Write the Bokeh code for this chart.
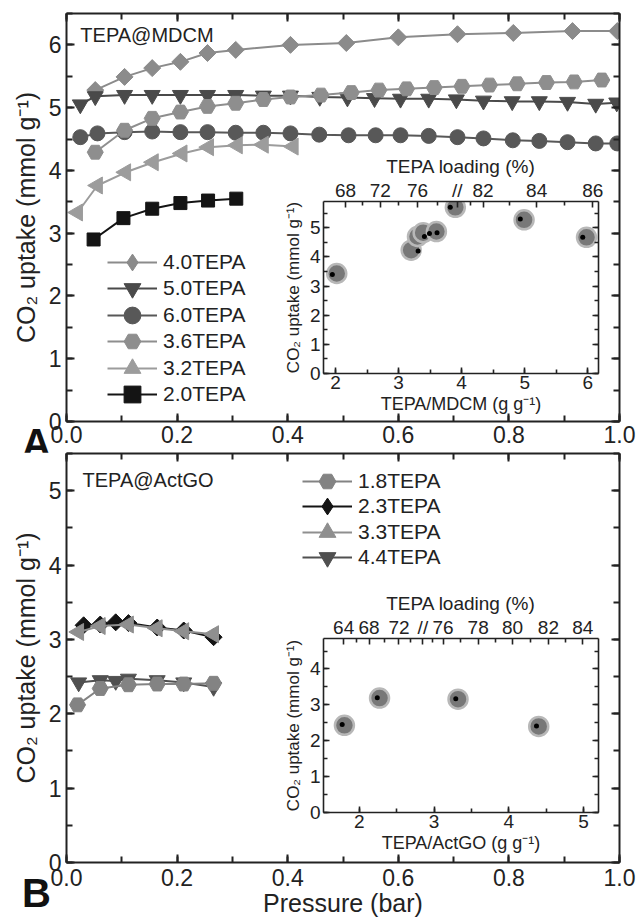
import numpy as np
from bokeh.plotting import figure
from bokeh.models import (Range1d, LinearAxis, SingleIntervalTicker, FixedTicker,
                          NumeralTickFormatter, Legend, LegendItem, Label, GridBox, Div)
from bokeh.embed import file_html
from bokeh.resources import INLINE

FONT = "Liberation Sans"
INK = "#222222"

# ---------------- Panel A data (TEPA@MDCM) ----------------
p_40 = [0.052, 0.105, 0.155, 0.206, 0.255, 0.306, 0.405, 0.506, 0.600, 0.707, 0.808, 0.915, 0.996]
u_40 = [5.28, 5.49, 5.63, 5.73, 5.87, 5.92, 6.00, 6.03, 6.12, 6.17, 6.19, 6.22, 6.22]

p_50 = [0.025, 0.052, 0.105, 0.155, 0.206, 0.255, 0.306, 0.356, 0.405, 0.458, 0.508, 0.557,
        0.604, 0.655, 0.705, 0.754, 0.806, 0.855, 0.906, 0.957, 0.995]
u_50 = [5.05, 5.18, 5.20, 5.20, 5.20, 5.20, 5.20, 5.19, 5.19, 5.17, 5.16, 5.15,
        5.14, 5.14, 5.13, 5.11, 5.10, 5.10, 5.09, 5.06, 5.08]

p_60 = [0.025, 0.056, 0.105, 0.155, 0.206, 0.255, 0.306, 0.356, 0.405, 0.457, 0.510, 0.559,
        0.604, 0.655, 0.707, 0.754, 0.807, 0.855, 0.906, 0.957, 0.996]
u_60 = [4.53, 4.59, 4.61, 4.62, 4.61, 4.61, 4.60, 4.60, 4.59, 4.57, 4.56, 4.56,
        4.56, 4.55, 4.53, 4.51, 4.48, 4.47, 4.45, 4.43, 4.43]

p_36 = [0.052, 0.105, 0.155, 0.206, 0.255, 0.306, 0.356, 0.405, 0.460, 0.515, 0.565, 0.615,
        0.665, 0.715, 0.765, 0.815, 0.868, 0.918, 0.968]
u_36 = [4.29, 4.64, 4.83, 4.93, 5.02, 5.07, 5.13, 5.17, 5.20, 5.24, 5.28, 5.30,
        5.32, 5.34, 5.36, 5.38, 5.40, 5.41, 5.44]

p_32 = [0.020, 0.056, 0.107, 0.157, 0.209, 0.257, 0.309, 0.356, 0.410]
u_32 = [3.33, 3.76, 3.97, 4.13, 4.27, 4.37, 4.40, 4.41, 4.38]

p_20 = [0.049, 0.103, 0.155, 0.206, 0.256, 0.307]
u_20 = [2.90, 3.24, 3.39, 3.48, 3.52, 3.55]

# inset A: uptake vs TEPA/MDCM ratio
ratio_A = [2.02, 3.20, 3.30, 3.39, 3.60, 3.90, 4.99, 5.98]
upt_A = [3.43, 4.23, 4.70, 4.83, 4.87, 5.70, 5.27, 4.67]
ratio_A_dot = [1.95, 3.31, 3.41, 3.49, 3.61, 3.82, 4.93, 5.92]
upt_A_dot = [3.40, 4.20, 4.70, 4.80, 4.83, 5.70, 5.30, 4.67]
loading_labels_A = ["68", "72", "76", "//", "82", "84", "86"]
loading_pos_A = [2.16, 2.71, 3.30, 3.93, 4.34, 5.19, 6.08]

# ---------------- Panel B data (TEPA@ActGO) ----------------
p_18 = [0.020, 0.061, 0.112, 0.164, 0.212, 0.266]
u_18 = [2.12, 2.34, 2.39, 2.40, 2.40, 2.41]
p_23 = [0.031, 0.061, 0.089, 0.112, 0.164, 0.212, 0.266]
u_23 = [3.19, 3.20, 3.23, 3.22, 3.16, 3.12, 3.03]
p_33 = [0.022, 0.061, 0.112, 0.164, 0.212, 0.266]
u_33 = [3.10, 3.18, 3.20, 3.15, 3.11, 3.07]
p_44 = [0.022, 0.061, 0.089, 0.112, 0.164, 0.212, 0.266]
u_44 = [2.42, 2.45, 2.44, 2.47, 2.45, 2.42, 2.36]

ratio_B = [1.80, 2.27, 3.32, 4.40]
upt_B = [2.43, 3.19, 3.16, 2.40]
ratio_B_dot = [1.77, 2.24, 3.29, 4.37]
upt_B_dot = [2.45, 3.20, 3.17, 2.41]
loading_labels_B = ["64", "68", "72", "//", "76", "78", "80", "82", "84"]
loading_pos_B = [1.79, 2.13, 2.53, 2.85, 3.12, 3.59, 4.05, 4.53, 4.99]

YLABEL = "CO\u2082 uptake (mmol g\u207b\u00b9)"


def style_axis(ax, font_px, labels=True, tin=8, min_in=6, lw=2.0, std=5):
    ax.axis_line_width = lw
    ax.axis_line_color = INK
    ax.major_tick_in = tin
    ax.major_tick_out = 0
    ax.minor_tick_in = min_in
    ax.minor_tick_out = 0
    ax.major_tick_line_width = lw
    ax.minor_tick_line_width = lw
    ax.major_tick_line_color = INK
    ax.minor_tick_line_color = INK
    ax.major_label_text_font = FONT
    if labels:
        ax.major_label_text_color = INK
        ax.major_label_text_font_size = f"{font_px}px"
        ax.major_label_standoff = std
    else:
        ax.major_label_text_color = None
        ax.major_label_text_font_size = "0px"
        ax.major_label_standoff = 0
    ax.axis_label_text_font = FONT
    ax.axis_label_text_font_style = "normal"
    ax.axis_label_text_color = INK


def main_fig(h, ymax, btop, bbot, xlabel):
    p = figure(width=639, height=h, x_range=Range1d(0, 1), y_range=Range1d(0, ymax),
               output_backend="svg", toolbar_location=None,
               min_border_left=66, min_border_right=20, min_border_top=btop,
               min_border_bottom=bbot, background_fill_color="white",
               border_fill_color="white", outline_line_color=None)
    p.grid.visible = False
    bx = p.below[0]
    ly = p.left[0]
    bx.ticker = SingleIntervalTicker(interval=0.2, num_minor_ticks=2)
    bx.formatter = NumeralTickFormatter(format="0.0")
    ly.ticker = SingleIntervalTicker(interval=1, num_minor_ticks=2)
    style_axis(bx, 23, std=4)
    style_axis(ly, 23, std=5)
    ly.axis_label = YLABEL
    ly.axis_label_text_font_size = "25px"
    ly.axis_label_standoff = 6
    if xlabel:
        bx.axis_label = xlabel
        bx.axis_label_text_font_size = "25px"
        bx.axis_label_standoff = 0
        bx.major_label_standoff = 6
    top = LinearAxis(ticker=SingleIntervalTicker(interval=0.2, num_minor_ticks=2))
    style_axis(top, 0, labels=False)
    p.add_layout(top, "above")
    right = LinearAxis(ticker=SingleIntervalTicker(interval=1, num_minor_ticks=2))
    style_axis(right, 0, labels=False)
    p.add_layout(right, "right")
    return p


def letter_div(letter, h, line_h):
    return Div(text=letter, width=40, height=h,
               styles={"font-family": FONT, "font-size": "40px", "font-weight": "bold",
                       "line-height": f"{line_h}px", "color": "#111111",
                       "padding-left": "3px", "overflow": "visible"})


def series(p, x, y, color, marker, size, angle=0.0, leg_marker=None):
    r1 = p.line(x, y, line_color=color, line_width=2)
    r2 = p.scatter(x, y, marker=marker, size=size, angle=angle,
                   fill_color=color, line_color=color, line_width=1)
    if leg_marker is None:
        return [r1, r2]
    r3 = p.scatter(x, y, marker=leg_marker, size=size, fill_color=color,
                   line_color=color, line_width=1, visible=False)
    return [r1, r3]


def add_legend(p, items, x, ys):
    # one single-entry legend per series, so the glyph box can be tall
    for (label, rends), y in zip(items, ys):
        p.add_layout(Legend(items=[LegendItem(label=label, renderers=rends)],
                            location=(x, y), glyph_width=50, glyph_height=42,
                            label_height=20, spacing=0, label_standoff=6,
                            padding=0, margin=0, border_line_color=None,
                            background_fill_alpha=0, label_text_font=FONT,
                            label_text_font_size="21px", label_text_color=INK))


def inset_fig(xr, yr, bleft, bright, h, xlabel, pos, labels, rx, ry, rdx, rdy):
    p = figure(width=331, height=h, x_range=Range1d(*xr), y_range=Range1d(*yr),
               output_backend="svg", toolbar_location=None,
               min_border_left=bleft, min_border_right=bright, min_border_top=44,
               min_border_bottom=48, background_fill_color="white",
               border_fill_color=None, outline_line_color=None)
    p.grid.visible = False
    bx = p.below[0]
    ly = p.left[0]
    bx.ticker = SingleIntervalTicker(interval=1, num_minor_ticks=2)
    ly.ticker = SingleIntervalTicker(interval=1, num_minor_ticks=2)
    style_axis(bx, 19, tin=6, min_in=4, lw=1.6, std=2)
    style_axis(ly, 19, tin=6, min_in=4, lw=1.6, std=3)
    bx.axis_label = xlabel
    bx.axis_label_text_font_size = "18px"
    bx.axis_label_standoff = 2
    ly.axis_label = YLABEL
    ly.axis_label_text_font_size = "17px"
    ly.axis_label_standoff = 4
    minors = [(a + b) / 2 for a, b in zip(pos[:-1], pos[1:])]
    top = LinearAxis(ticker=FixedTicker(ticks=pos, minor_ticks=minors),
                     major_label_overrides={v: t for v, t in zip(pos, labels)})
    style_axis(top, 19, tin=6, min_in=4, lw=1.6, std=1)
    top.axis_label = "TEPA loading (%)"
    top.axis_label_text_font_size = "19px"
    top.axis_label_standoff = 0
    p.add_layout(top, "above")
    right = LinearAxis(ticker=SingleIntervalTicker(interval=1, num_minor_ticks=2))
    style_axis(right, 0, labels=False, tin=6, min_in=4, lw=1.6)
    p.add_layout(right, "right")
    p.scatter(rx, ry, marker="circle", size=19, fill_color="#787878",
              line_color="#b8b8b8", line_width=2.5)
    p.scatter(rdx, rdy, marker="circle", size=5, fill_color="#000000", line_color=None)
    return p


# ---------------- Panel A ----------------
pA = main_fig(452, 6.5, 13, 31, None)
rA40 = series(pA, p_40, u_40, "#8b8b8b", "square", 12, np.pi / 4, "diamond")
rA50 = series(pA, p_50, u_50, "#4a4a4a", "inverted_triangle", 16)
rA60 = series(pA, p_60, u_60, "#585858", "circle", 15)
rA36 = series(pA, p_36, u_36, "#8e8e8e", "hex", 16)
rA32 = series(pA, p_32, u_32, "#9c9c9c", "triangle", 17, np.pi / 2)
rA20 = series(pA, p_20, u_20, "#141414", "square", 13)
add_legend(pA, [("4.0TEPA", rA40), ("5.0TEPA", rA50), ("6.0TEPA", rA60),
                ("3.6TEPA", rA36), ("3.2TEPA", rA32), ("2.0TEPA", rA20)],
           41, [138, 112, 85, 59, 32, 6])
pA.add_layout(Label(x=0.025, y=6.16, text="TEPA@MDCM", text_font=FONT,
                    text_font_size="20px", text_color=INK, text_baseline="middle"))

# ---------------- Panel B ----------------
pB = main_fig(470, 5.5, 1, 60, "Pressure (bar)")
rB44 = series(pB, p_44, u_44, "#505050", "inverted_triangle", 16)
rB18 = series(pB, p_18, u_18, "#838383", "hex", 16)
rB23 = series(pB, p_23, u_23, "#141414", "square", 12, np.pi / 4, "diamond")
rB33 = series(pB, p_33, u_33, "#8f8f8f", "triangle", 17, np.pi / 2)
add_legend(pB, [("1.8TEPA", rB18), ("2.3TEPA", rB23), ("3.3TEPA", rB33),
                ("4.4TEPA", rB44)], 236, [360, 335, 309, 284])
pB.add_layout(Label(x=0.029, y=5.15, text="TEPA@ActGO", text_font=FONT,
                    text_font_size="20px", text_color=INK, text_baseline="middle"))

# ---------------- Insets and panel letters ----------------
iA = inset_fig((1.81, 6.17), (0, 5.9), 45, 10, 269, "TEPA/MDCM (g g\u207b\u00b9)",
               loading_pos_A, loading_labels_A, ratio_A, upt_A, ratio_A_dot, upt_A_dot)
iB = inset_fig((1.52, 5.2), (0, 4.85), 44, 11, 271, "TEPA/ActGO (g g\u207b\u00b9)",
               loading_pos_B, loading_labels_B, ratio_B, upt_B, ratio_B_dot, upt_B_dot)
lA = letter_div("A", 31, 34)
lB = letter_div("B", 62, 56)

grid = GridBox(children=[(pA, 0, 0, 3, 5), (iA, 1, 3, 1, 1), (lA, 2, 1, 1, 1),
                         (pB, 3, 0, 3, 5), (iB, 4, 3, 1, 1), (lB, 5, 1, 1, 1)],
               rows=["152px", "269px", "31px", "137px", "271px", "62px"],
               cols=["14px", "40px", "224px", "331px", "30px"], spacing=0)

open("out.html", "w").write(file_html(grid, INLINE, title="CO2 uptake"))
